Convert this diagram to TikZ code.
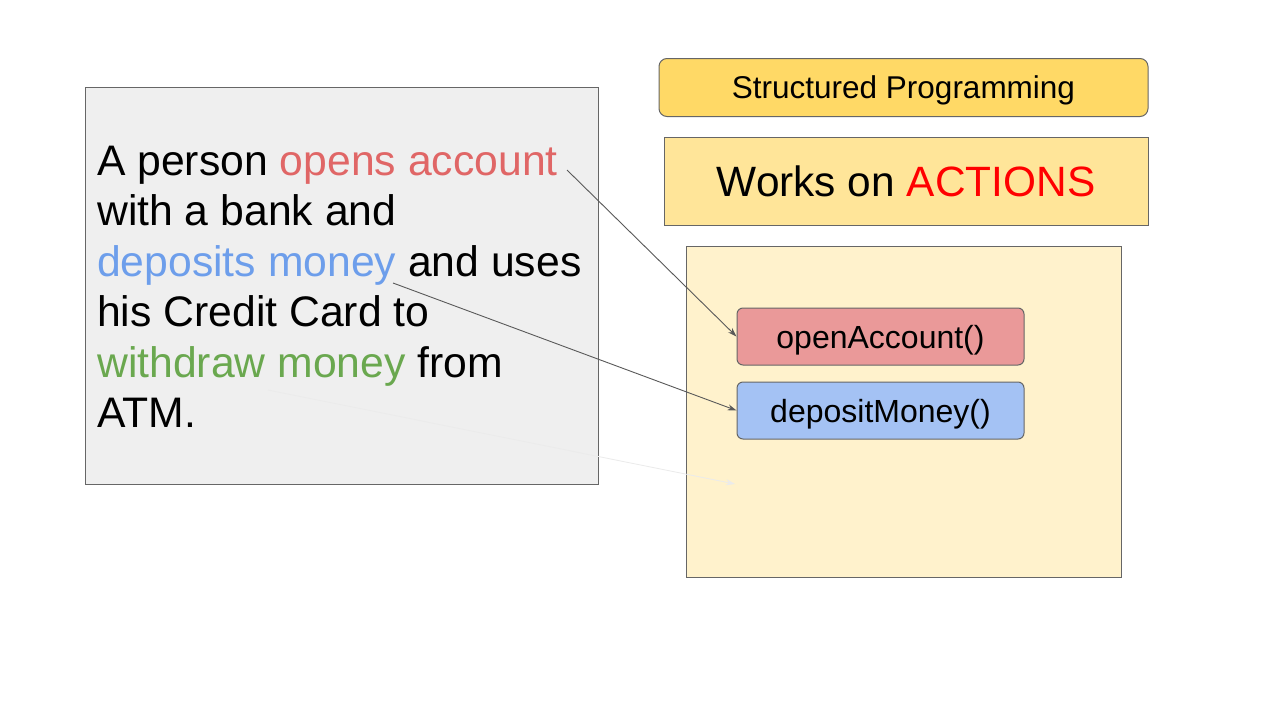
\documentclass[tikz,border=0pt]{standalone}
\usepackage{fontspec}
\setmainfont{Liberation Sans}
\usetikzlibrary{arrows.meta}
\definecolor{boxgray}{HTML}{EFEFEF}
\definecolor{edge}{HTML}{666666}
\definecolor{titleyellow}{HTML}{FFD966}
\definecolor{subyellow}{HTML}{FFE599}
\definecolor{paleyellow}{HTML}{FFF2CC}
\definecolor{fnred}{HTML}{EA9999}
\definecolor{fnblue}{HTML}{A4C2F4}
\definecolor{txtred}{HTML}{E06666}
\definecolor{txtblue}{HTML}{6D9EEB}
\definecolor{txtgreen}{HTML}{6AA84F}
\definecolor{actred}{HTML}{FF0000}
\definecolor{arrowgray}{HTML}{595959}
\begin{document}
\begin{tikzpicture}[x=1pt,y=-1pt,
  panel/.style={draw=edge, line width=1pt},
  fnbox/.style={draw=edge, line width=1pt, rounded corners=6pt, minimum width=287pt, minimum height=57pt, inner sep=0pt, font=\fontsize{32}{38}\selectfont, text height=23pt, text depth=0pt},
  bigline/.style={anchor=base west, inner sep=0pt, font=\fontsize{42.7}{50}\selectfont},
  link/.style={draw=arrowgray, line width=0.9pt, -{Stealth[length=9pt,width=6pt]}},
  fadelink/.style={draw=black!8, line width=0.8pt, -{Stealth[length=9pt,width=6pt]}}
]
\useasboundingbox (0,0) rectangle (1280,720);
\fill[white] (0,0) rectangle (1280,720);

% left text panel
\draw[panel, fill=boxgray] (85,87) rectangle (598,484);
\node[bigline] (l1) at (97,175) {A person \textcolor{txtred}{opens account}};
\node[bigline] (l2) at (97,225.5) {with a bank and};
\node[bigline] (l3) at (97,276) {\textcolor{txtblue}{deposits money} and uses};
\node[bigline] (l4) at (97,326.5) {his Credit Card to};
\node[bigline] (l5) at (97,377) {\textcolor{txtgreen}{withdraw money} from};
\node[bigline] (l6) at (97,427.5) {ATM.};

% right side
\node[draw=edge, line width=1pt, fill=titleyellow, rounded corners=8pt, minimum width=489pt, minimum height=58pt, inner sep=0pt, font=\fontsize{31.5}{38}\selectfont, text height=22.7pt, text depth=0pt] (title) at (903.5,87.5) {Structured Programming};
\node[draw=edge, line width=1pt, fill=subyellow, minimum width=484pt, minimum height=88pt, inner sep=0pt, font=\fontsize{42.4}{50}\selectfont, text height=30.5pt, text depth=0pt] (works) at (906,181.5) {Works on \textcolor{actred}{ACTIONS}};
\node[draw=edge, line width=1pt, fill=paleyellow, minimum width=435pt, minimum height=331pt, inner sep=0pt] (area) at (903.5,411.5) {};
\node[fnbox, fill=fnred] (open) at (880.5,336.5) {openAccount()};
\node[fnbox, fill=fnblue] (deposit) at (880.5,410.5) {depositMoney()};

% connectors
\coordinate (s1) at (567,170);
\coordinate (s2) at (393,283);
\coordinate (s3) at (268,390);
\coordinate (e3) at (735,484);
\draw[link] (s1) -- (open.west);
\draw[link] (s2) -- (deposit.west);
\draw[fadelink] (s3) -- (e3);
\end{tikzpicture}
\end{document}
